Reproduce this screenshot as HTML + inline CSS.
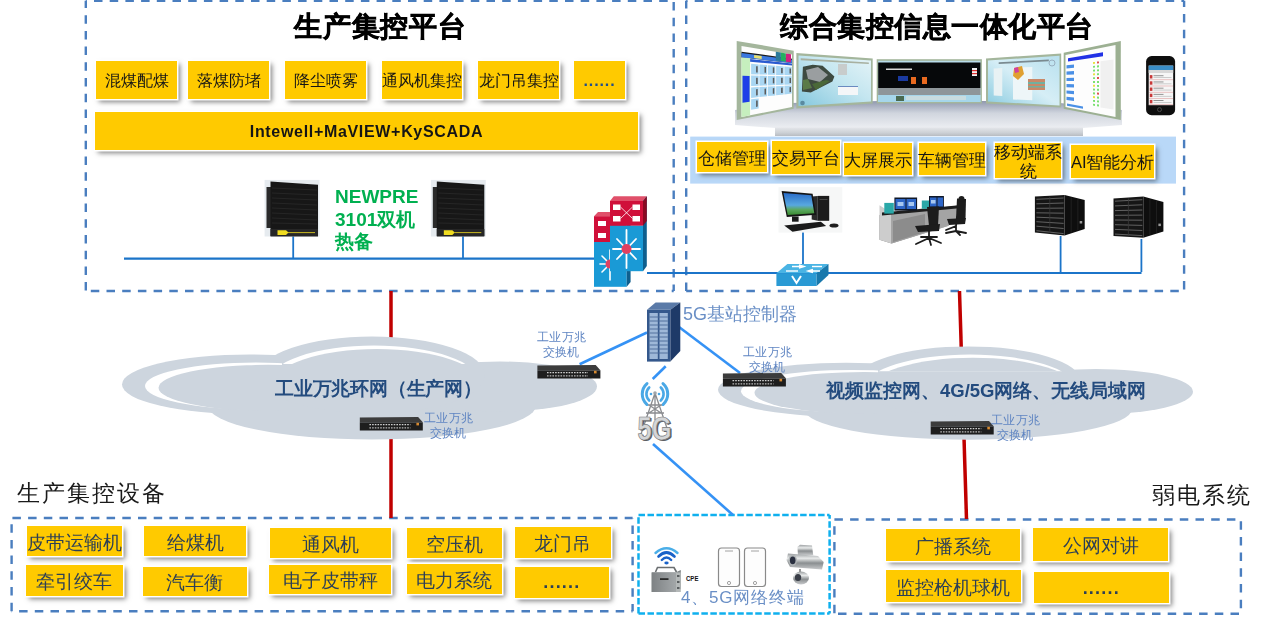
<!DOCTYPE html>
<html><head><meta charset="utf-8">
<style>
html,body{margin:0;padding:0}
.t,.y{will-change:transform}
body{width:1268px;height:629px;position:relative;overflow:hidden;background:#fff;font-family:"Liberation Sans",sans-serif}
svg.bg{position:absolute;left:0;top:0}
.t{position:absolute;white-space:nowrap;line-height:1}
.y{position:absolute;background:#ffca00;box-shadow:0 0 0 1.5px #fff,3px 3px 5px rgba(0,0,0,.5);display:flex;align-items:center;justify-content:center;font-size:15.5px;color:#151515;white-space:nowrap;line-height:1;font-weight:500;padding-top:2px;box-sizing:border-box}
.yb{color:#2d3f55;font-size:18.5px;padding-top:4px;box-sizing:border-box}
.sl{font-size:12px;color:#5f85c2;line-height:14.8px;letter-spacing:0.3px}
.dots2{font-weight:bold;font-size:18px;letter-spacing:1.2px;color:#2d3f55;padding-top:0}
.dots{color:#1f4e8c;font-weight:bold;font-size:16px;letter-spacing:0.9px}
</style></head><body>
<svg class="bg" width="1268" height="629" viewBox="0 0 1268 629">
  <defs>
    <filter id="blur1"><feGaussianBlur stdDeviation="0.6"/></filter>
  </defs>
  <!-- dashed boxes -->
  <g fill="none" stroke="#4a7ebf" stroke-width="2.4" stroke-dasharray="8.5 7.2">
    <line x1="85.8" y1="0.8" x2="673.7" y2="0.8" stroke-dashoffset="7.50"/>
    <line x1="673.7" y1="0.8" x2="673.7" y2="291.0" stroke-dashoffset="14.50"/>
    <line x1="673.7" y1="291.0" x2="85.8" y2="291.0" stroke-dashoffset="6.50"/>
    <line x1="85.8" y1="291.0" x2="85.8" y2="0.8" stroke-dashoffset="15.30"/>
    <line x1="686.2" y1="0.8" x2="1184.1" y2="0.8" stroke-dashoffset="7.20"/>
    <line x1="1184.1" y1="0.8" x2="1184.1" y2="291.0" stroke-dashoffset="2.40"/>
    <line x1="1184.1" y1="291.0" x2="686.2" y2="291.0" stroke-dashoffset="10.40"/>
    <line x1="686.2" y1="291.0" x2="686.2" y2="0.8" stroke-dashoffset="0.00"/>
  </g>
  <g fill="none" stroke="#4a7ebf" stroke-width="2.4" stroke-dasharray="8.5 7.2">
    <line x1="11.6" y1="518.0" x2="632.6" y2="518.0" stroke-dashoffset="14.90"/>
    <line x1="632.6" y1="518.0" x2="632.6" y2="611.2" stroke-dashoffset="8.30"/>
    <line x1="11.6" y1="611.2" x2="632.6" y2="611.2" stroke-dashoffset="8.20"/>
    <line x1="11.6" y1="611.2" x2="11.6" y2="518.0" stroke-dashoffset="0.00"/>
    <line x1="834.4" y1="519.5" x2="1240.9" y2="519.5" stroke-dashoffset="0.00"/>
    <line x1="1240.9" y1="519.5" x2="1240.9" y2="613.8" stroke-dashoffset="14.00"/>
    <line x1="834.4" y1="613.8" x2="1240.9" y2="613.8" stroke-dashoffset="12.10"/>
    <line x1="834.4" y1="519.5" x2="834.4" y2="613.8" stroke-dashoffset="8.90"/>
  </g>
  <g fill="none" stroke="#0fb0ee" stroke-width="2.5" stroke-dasharray="6.5 2.48">
    <line x1="638.5" y1="514.9" x2="829.6" y2="514.9" stroke-dashoffset="0.00"/>
    <line x1="829.6" y1="514.9" x2="829.6" y2="613.4" stroke-dashoffset="2.68"/>
    <line x1="638.5" y1="613.4" x2="829.6" y2="613.4" stroke-dashoffset="0.00"/>
    <line x1="638.5" y1="514.9" x2="638.5" y2="613.4" stroke-dashoffset="6.58"/>
  </g>

  <!-- red lines -->
  <line x1="391" y1="291" x2="391" y2="518" stroke="#c00000" stroke-width="3.5"/>
  <line x1="959.5" y1="291" x2="966.5" y2="519" stroke="#c00000" stroke-width="3.5"/>

  <!-- buses -->
  <line x1="124" y1="258.7" x2="594" y2="258.7" stroke="#1b74c9" stroke-width="2.2"/>
  <line x1="293.2" y1="236" x2="293.2" y2="258" stroke="#1b74c9" stroke-width="1.8"/>
  <line x1="463" y1="236" x2="463" y2="258" stroke="#1b74c9" stroke-width="1.8"/>
  <line x1="647" y1="273" x2="1141.5" y2="273" stroke="#1b74c9" stroke-width="2.2"/>
  <line x1="803" y1="232" x2="803" y2="272" stroke="#1b74c9" stroke-width="1.8"/>
  <line x1="1060.6" y1="236" x2="1060.6" y2="272" stroke="#1b74c9" stroke-width="1.8"/>
  <line x1="1141.4" y1="239" x2="1141.4" y2="272" stroke="#1b74c9" stroke-width="1.8"/>

  <!-- ===== NEWPRE servers ===== -->
  <g id="srv">
    <rect x="264.6" y="179.9" width="54.9" height="56.6" fill="#e6ebef"/>
    <rect x="266.5" y="187" width="6" height="41" fill="#2a2a2a"/>
    <polygon points="270.5,181.5 318,184.8 318,236 270.5,236" fill="#171717"/>
    <g stroke="#2c2c2c" stroke-width="0.7">
      <line x1="272" y1="188" x2="317" y2="190"/><line x1="272" y1="193" x2="317" y2="195"/>
      <line x1="272" y1="198" x2="317" y2="200"/><line x1="272" y1="203" x2="317" y2="205"/>
      <line x1="272" y1="208" x2="317" y2="210"/><line x1="272" y1="213" x2="317" y2="215"/>
      <line x1="272" y1="218" x2="317" y2="220"/><line x1="272" y1="223" x2="317" y2="224"/>
    </g>
    <rect x="270.5" y="229" width="47.5" height="7.5" fill="#262626"/>
    <polygon points="277.5,230.2 286,230.2 288.5,232.6 286,235 277.5,235" fill="#f0dc20"/>
    <line x1="288" y1="232.6" x2="315" y2="232.6" stroke="#c8b820" stroke-width="1"/>
  </g>
  <use href="#srv" x="166.3" y="0"/>

  <!-- ===== Cisco L3 switches ===== -->
  <g id="l3back">
    <polygon points="594,216.2 598,212 630.6,212 626.7,216.2" fill="#e0506a"/>
    <rect x="594" y="216.2" width="32.7" height="25.8" fill="#d0103a"/>
    <rect x="594" y="242" width="32.7" height="44.8" fill="#1a9ad6"/>
    <polygon points="626.7,216.2 630.6,212 630.6,282 626.7,286.8" fill="#0e5f8e"/>
    <rect x="598" y="221" width="8" height="5" fill="#fff"/>
    <rect x="598" y="233" width="8" height="5" fill="#fff"/>
    <g stroke="#fff" stroke-width="1.6" stroke-linecap="round">
      <line x1="610" y1="264" x2="600" y2="264"/><line x1="610" y1="264" x2="610" y2="250"/>
      <line x1="610" y1="264" x2="610" y2="280"/><line x1="610" y1="264" x2="602" y2="256"/>
      <line x1="610" y1="264" x2="602" y2="272"/>
    </g>
    <circle cx="610" cy="264" r="4.5" fill="#e04060"/>
  </g>
  <g id="l3front">
    <polygon points="610,201 613.8,196.2 646.8,196.2 643,201" fill="#e0506a"/>
    <rect x="610" y="201" width="33" height="24.8" fill="#d0103a"/>
    <rect x="610" y="225.8" width="33" height="45.4" fill="#1a9ad6"/>
    <polygon points="643,201 646.8,196.2 646.8,266 643,271.2" fill="#0e5f8e"/>
    <polygon points="643,201 646.8,196.2 646.8,221 643,225.8" fill="#8a0a22"/>
    <rect x="613" y="204.5" width="7.5" height="5.5" fill="#fff"/>
    <rect x="632.5" y="204.5" width="7.5" height="5.5" fill="#fff"/>
    <rect x="613" y="216" width="7.5" height="5.5" fill="#fff"/>
    <rect x="632.5" y="216" width="7.5" height="5.5" fill="#fff"/>
    <path d="M620.5,207 L632.5,218.5 M620.5,218.5 L632.5,207" stroke="#fff" stroke-width="0.8"/>
    <g stroke="#fff" stroke-width="1.8" stroke-linecap="round">
      <line x1="626.5" y1="249" x2="626.5" y2="230"/><line x1="626.5" y1="249" x2="626.5" y2="268"/>
      <line x1="626.5" y1="249" x2="613" y2="249"/><line x1="626.5" y1="249" x2="640" y2="249"/>
      <line x1="626.5" y1="249" x2="617" y2="239"/><line x1="626.5" y1="249" x2="636" y2="239"/>
      <line x1="626.5" y1="249" x2="617" y2="259"/><line x1="626.5" y1="249" x2="636" y2="259"/>
    </g>
    <circle cx="626.5" cy="249" r="5" fill="#e04060"/>
  </g>

  <!-- ===== clouds ===== -->
  <defs>
    <clipPath id="clipLobe"><rect x="100" y="340" width="182" height="72"/></clipPath>
    <clipPath id="clipHump"><rect x="270" y="320" width="200" height="44"/></clipPath>
  </defs>
  <g id="cloudL">
    <g fill="#cdd5de">
      <ellipse cx="250" cy="384.4" rx="128" ry="30"/>
      <ellipse cx="372" cy="405.5" rx="164" ry="34"/>
      <ellipse cx="500" cy="386.5" rx="97" ry="25"/>
      <ellipse cx="372" cy="375" rx="113" ry="38.5"/>
    </g>
    <g clip-path="url(#clipLobe)">
      <ellipse cx="256" cy="386" rx="111" ry="23.5" fill="#fff"/>
      <ellipse cx="268" cy="387.8" rx="109.5" ry="23" fill="#cdd5de"/>
    </g>
    <g clip-path="url(#clipHump)">
      <ellipse cx="374" cy="381" rx="104" ry="35.5" fill="#fff"/>
      <ellipse cx="377" cy="384.5" rx="104" ry="35.5" fill="#cdd5de"/>
    </g>
  </g>
  <use href="#cloudL" transform="translate(596,441) scale(1,0.905) translate(0,-441)"/>

  <!-- ===== blue links ===== -->
  <g stroke="#3592f5" stroke-width="2.6">
    <line x1="579.6" y1="364.2" x2="647" y2="332.5"/>
    <line x1="679" y1="327" x2="740" y2="373"/>
    <line x1="665.7" y1="366.3" x2="652.7" y2="379"/>
    <line x1="653" y1="444" x2="733" y2="515"/>
  </g>

  <!-- ===== 1U switches ===== -->
  <g id="sw1u">
    <polygon points="537.4,365.6 595.7,364.9 600.4,370.3 537.4,370.3" fill="#3c3c3c"/>
    <rect x="537.4" y="370.3" width="63" height="8.2" fill="#1e1e1e"/>
    <line x1="547" y1="372.6" x2="588" y2="372.6" stroke="#d0d0d0" stroke-width="1.3" stroke-dasharray="1.6 1.1"/>
    <line x1="547" y1="375.8" x2="588" y2="375.8" stroke="#b8b8b8" stroke-width="1.3" stroke-dasharray="1.6 1.1"/>
    <rect x="594" y="370.8" width="2.6" height="2.6" fill="#d88a30"/>
  </g>
  <use href="#sw1u" x="185.5" y="8"/>
  <use href="#sw1u" x="-177.6" y="52"/>
  <use href="#sw1u" x="393.3" y="56"/>

  <!-- ===== 5G controller rack ===== -->
  <polygon points="647,309.8 655.6,302.4 680.3,302.4 670.4,309.8" fill="#5a7aa8"/>
  <rect x="647" y="309.8" width="23.4" height="51.8" fill="#34588c"/>
  <polygon points="670.4,309.8 680.3,302.4 680.3,351 670.4,361.6" fill="#1e3a68"/>
  <rect x="649.5" y="313" width="8.3" height="46" fill="#9eb8d8"/>
  <rect x="659.5" y="313" width="8.3" height="46" fill="#9eb8d8"/>
  <g stroke="#4a6a98" stroke-width="0.9">
    <line x1="649.5" y1="317" x2="667.8" y2="317"/><line x1="649.5" y1="321" x2="667.8" y2="321"/>
    <line x1="649.5" y1="325" x2="667.8" y2="325"/><line x1="649.5" y1="329" x2="667.8" y2="329"/>
    <line x1="649.5" y1="333" x2="667.8" y2="333"/><line x1="649.5" y1="337" x2="667.8" y2="337"/>
    <line x1="649.5" y1="341" x2="667.8" y2="341"/><line x1="649.5" y1="345" x2="667.8" y2="345"/>
    <line x1="649.5" y1="349" x2="667.8" y2="349"/><line x1="649.5" y1="353" x2="667.8" y2="353"/>
  </g>

  <!-- ===== 5G tower ===== -->
  <g fill="none" stroke="#4aa8e6" stroke-linecap="round">
    <path d="M649.2,387.5 A9,9 0 0 0 649.2,400.5" stroke-width="2.6"/><path d="M660.8,387.5 A9,9 0 0 1 660.8,400.5" stroke-width="2.6"/>
    <path d="M647,383.5 A14,14 0 0 0 647,404.5" stroke-width="3"/><path d="M663,383.5 A14,14 0 0 1 663,404.5" stroke-width="3"/>
  </g>
  <circle cx="651" cy="394" r="1.3" fill="#4aa8e6"/><circle cx="659" cy="394" r="1.3" fill="#4aa8e6"/>
  <g stroke="#8a8c90" stroke-width="1.3" fill="none">
    <path d="M655,393 L640,437 M655,393 L670,437 M655,393 L655,420 M648,405 L662,405 M646,413 L664,413 M649,405 L661,413 M661,405 L649,413"/>
  </g>
  <circle cx="655" cy="393" r="1.8" fill="#a0a4a8"/>
  <text x="639" y="441" font-family="Liberation Sans, sans-serif" font-weight="bold" font-size="34" fill="#5a5c60" textLength="34" lengthAdjust="spacingAndGlyphs">5G</text>
  <text x="637.5" y="440" font-family="Liberation Sans, sans-serif" font-weight="bold" font-size="34" fill="#d4d6d8" stroke="#7a7c80" stroke-width="0.7" textLength="34" lengthAdjust="spacingAndGlyphs">5G</text>

  <!-- ===== terminal icons ===== -->
  <defs>
    <linearGradient id="silver" x1="0" y1="0" x2="0" y2="1">
      <stop offset="0" stop-color="#9a9ea0"/><stop offset="0.3" stop-color="#e8eaea"/><stop offset="0.6" stop-color="#8a8e90"/><stop offset="1" stop-color="#c8cacc"/>
    </linearGradient>
    <linearGradient id="cpebox" x1="0" y1="0" x2="1" y2="0">
      <stop offset="0" stop-color="#7e8284"/><stop offset="1" stop-color="#a2a6a8"/>
    </linearGradient>
  </defs>
  <g fill="none" stroke-linecap="round">
    <path d="M655.5,553 Q666.5,543.5 677.5,553" stroke="#4aaee8" stroke-width="2.4"/>
    <path d="M658.5,556.5 Q666.5,548.5 674.5,556.5" stroke="#1a62c8" stroke-width="2.6"/>
    <path d="M661.8,560 Q666.5,555 671.2,560" stroke="#1a62c8" stroke-width="2.4"/>
  </g>
  <ellipse cx="666.5" cy="563" rx="2.2" ry="1.4" fill="#1a62c8"/>
  <path d="M655.5,572 L657.5,567.5 L674,567.5 L676.5,572" fill="none" stroke="#6a6e70" stroke-width="1.6"/>
  <polygon points="651.7,572.4 675.5,572.4 680.8,570 680.8,589 675.5,592 651.7,592" fill="#7c8082"/>
  <rect x="651.7" y="572.4" width="23.8" height="19.6" fill="url(#cpebox)"/>
  <rect x="675.5" y="572.4" width="5.3" height="19.6" fill="#b4b8b8"/>
  <rect x="660" y="578.2" width="8.5" height="1.8" fill="#2a2a2a"/>
  <g fill="#5a5e60"><rect x="677" y="575" width="2.5" height="2"/><rect x="677" y="581" width="2.5" height="2"/><rect x="677" y="587" width="2.5" height="2"/></g>
  <text x="686" y="581" font-family="Liberation Sans, sans-serif" font-weight="bold" font-size="8" fill="#111" textLength="12.4" lengthAdjust="spacingAndGlyphs">CPE</text>
  <rect x="718.5" y="548" width="21" height="38.5" rx="3" fill="#fdfdfd" stroke="#8a8a8a" stroke-width="1.2"/>
  <rect x="744.5" y="548" width="21" height="38.5" rx="3" fill="#fdfdfd" stroke="#8a8a8a" stroke-width="1.2"/>
  <circle cx="729" cy="583" r="1.6" fill="none" stroke="#8a8a8a" stroke-width="0.8"/>
  <circle cx="755" cy="583" r="1.6" fill="none" stroke="#8a8a8a" stroke-width="0.8"/>
  <line x1="725" y1="551" x2="733" y2="551" stroke="#8a8a8a" stroke-width="0.8"/>
  <line x1="751" y1="551" x2="759" y2="551" stroke="#8a8a8a" stroke-width="0.8"/>
  <!-- camera -->
  <polygon points="797.4,547 800,544.7 812,545.5 813.2,555.2 798,555.2" fill="url(#silver)"/>
  <polygon points="788,553.5 818,556 823.7,562 822,569.5 790,567 786.5,560" fill="url(#silver)"/>
  <ellipse cx="792.7" cy="560.4" rx="4.3" ry="5.6" fill="#b0b4b6"/>
  <ellipse cx="792.7" cy="560.4" rx="2.8" ry="3.8" fill="#2a3040"/>
  <line x1="800" y1="569" x2="800" y2="572" stroke="#777" stroke-width="1.5"/>
  <ellipse cx="801" cy="578" rx="8" ry="6.5" fill="url(#silver)"/>
  <ellipse cx="798" cy="577.5" rx="3.2" ry="3.6" fill="#3a3e48"/>

  <!-- ===== screens platform ===== -->
  <defs>
    <linearGradient id="plat" x1="0" y1="0" x2="0" y2="1">
      <stop offset="0" stop-color="#9098ae"/><stop offset="0.45" stop-color="#d0d5de"/><stop offset="1" stop-color="#eceef2"/>
    </linearGradient>
    <linearGradient id="shelf" x1="0" y1="0" x2="0" y2="1">
      <stop offset="0" stop-color="#e4e6ea"/><stop offset="0.6" stop-color="#cdd1d6"/><stop offset="1" stop-color="#b8bcc2"/>
    </linearGradient>
  </defs>
  <polygon points="735,110 790,103 880,101 985,101 1060,103 1122,110 1122,125 1083,128 775,128 735,125" fill="url(#plat)"/>
  <rect x="775" y="127.5" width="308" height="8.5" fill="url(#shelf)"/>
  <!-- screens -->
  <polygon points="736.7,40.9 793.7,50.7 793.7,108.8 736.7,120.0" fill="#a4b69c"/>
  <polygon points="741.5,46.0 792.0,54.5 792.0,107.0 741.5,117.0" fill="#fdfdfd"/>
  <polygon points="741.5,51.7 792.0,58.7 792.0,62.9 741.5,57.4" fill="#1a1a1a"/>
  <polygon points="741.5,53.1 792.0,59.8 792.0,62.9 741.5,57.4" fill="#3a78e0"/>
  <polygon points="754.1,55.1 761.7,56.1 761.7,58.9 754.1,58.1" fill="#e8e070"/>
  <polygon points="775.8,51.8 780.9,52.6 780.9,61.1 775.8,60.5" fill="#2a7a9a"/>
  <polygon points="780.9,52.6 785.9,53.5 785.9,61.7 780.9,61.1" fill="#22b060"/>
  <polygon points="785.9,53.5 791.0,54.3 791.0,62.3 785.9,61.7" fill="#d02080"/>
  <polygon points="741.5,57.4 750.1,58.3 750.1,115.3 741.5,117.0" fill="#c6efbe"/>
  <polygon points="742.5,75.8 749.6,75.9 749.6,101.8 742.5,102.7" fill="#1e3ee8"/>
  <polygon points="750.1,59.0 792.0,63.4 792.0,65.5 750.1,61.7" fill="#2a5ad0"/>
  <polygon points="751.1,63.8 758.7,64.4 758.7,74.5 751.1,74.3" fill="#a9d6f2"/>
  <polygon points="756.1,66.2 757.7,66.3 757.7,72.5 756.1,72.4" fill="#5a5a5a"/>
  <polygon points="759.4,64.5 767.0,65.1 767.0,74.6 759.4,74.5" fill="#a9d6f2"/>
  <polygon points="764.5,66.8 766.0,66.9 766.0,72.8 764.5,72.7" fill="#5a5a5a"/>
  <polygon points="767.8,65.2 775.3,65.8 775.3,74.8 767.8,74.7" fill="#a9d6f2"/>
  <polygon points="772.8,67.3 774.3,67.4 774.3,73.1 772.8,73.0" fill="#5a5a5a"/>
  <polygon points="776.1,65.8 783.7,66.4 783.7,75.0 776.1,74.9" fill="#a9d6f2"/>
  <polygon points="781.1,67.9 782.7,68.0 782.7,73.3 781.1,73.3" fill="#5a5a5a"/>
  <polygon points="784.4,66.5 791.7,67.1 791.7,75.2 784.4,75.1" fill="#a9d6f2"/>
  <polygon points="789.5,68.5 791.0,68.6 791.0,73.6 789.5,73.6" fill="#5a5a5a"/>
  <polygon points="751.1,75.6 758.7,75.7 758.7,85.8 751.1,86.1" fill="#a9d6f2"/>
  <polygon points="756.1,77.7 757.7,77.7 757.7,83.9 756.1,83.9" fill="#5a5a5a"/>
  <polygon points="759.4,75.8 767.0,75.9 767.0,85.4 759.4,85.7" fill="#a9d6f2"/>
  <polygon points="764.5,77.7 766.0,77.7 766.0,83.6 764.5,83.7" fill="#5a5a5a"/>
  <polygon points="767.8,75.9 775.3,76.0 775.3,85.1 767.8,85.4" fill="#a9d6f2"/>
  <polygon points="772.8,77.8 774.3,77.8 774.3,83.4 772.8,83.4" fill="#5a5a5a"/>
  <polygon points="776.1,76.0 783.7,76.2 783.7,84.8 776.1,85.1" fill="#a9d6f2"/>
  <polygon points="781.1,77.8 782.7,77.8 782.7,83.1 781.1,83.2" fill="#5a5a5a"/>
  <polygon points="784.4,76.2 791.7,76.3 791.7,84.4 784.4,84.7" fill="#a9d6f2"/>
  <polygon points="789.5,77.8 791.0,77.9 791.0,82.9 789.5,82.9" fill="#5a5a5a"/>
  <polygon points="751.1,87.4 758.7,87.1 758.7,97.1 751.1,97.9" fill="#a9d6f2"/>
  <polygon points="756.1,89.2 757.7,89.1 757.7,95.3 756.1,95.4" fill="#5a5a5a"/>
  <polygon points="759.4,87.0 767.0,86.7 767.0,96.2 759.4,97.0" fill="#a9d6f2"/>
  <polygon points="764.5,88.7 766.0,88.6 766.0,94.5 764.5,94.6" fill="#5a5a5a"/>
  <polygon points="767.8,86.6 775.3,86.3 775.3,95.4 767.8,96.1" fill="#a9d6f2"/>
  <polygon points="772.8,88.2 774.3,88.1 774.3,93.7 772.8,93.8" fill="#5a5a5a"/>
  <polygon points="776.1,86.2 783.7,85.9 783.7,94.5 776.1,95.3" fill="#a9d6f2"/>
  <polygon points="781.1,87.7 782.7,87.6 782.7,92.9 781.1,93.1" fill="#5a5a5a"/>
  <polygon points="784.4,85.8 791.7,85.5 791.7,93.6 784.4,94.4" fill="#a9d6f2"/>
  <polygon points="789.5,87.2 791.0,87.1 791.0,92.1 789.5,92.3" fill="#5a5a5a"/>
  <polygon points="751.1,99.2 758.7,98.4 758.7,108.4 751.1,109.7" fill="#a9d6f2"/>
  <polygon points="756.1,100.6 757.7,100.5 757.7,106.6 756.1,106.9" fill="#5a5a5a"/>
  <polygon points="796.4,53.0 872.7,58.4 872.7,103.4 796.4,108.5" fill="#a4b69c"/>
  <defs><linearGradient id="s2g" x1="0" y1="1" x2="1" y2="0"><stop offset="0" stop-color="#86c8de"/><stop offset="0.55" stop-color="#c4e6f0"/><stop offset="1" stop-color="#e6f4f8"/></linearGradient></defs>
  <polygon points="798.5,55.5 871.0,60.5 871.0,101.5 798.5,106.0" fill="url(#s2g)"/>
  <polygon points="800.7,58.2 868.8,62.4 868.8,64.1 800.7,60.2" fill="#a8b0a0"/>
  <polygon points="801.9,91.4 802.9,66.8 812.7,64.8 822.6,65.8 834.4,76.6 832.4,81.6 820.6,87.5 810.8,92.4" fill="#3e4a40"/>
  <polygon points="806,70 818,67 828,75 820,82 808,79" fill="#9a9ea0"/>
  <polygon points="803,80 808,79 812,88 803,90" fill="#5a7a48"/>
  <polygon points="812,84 826,80 830,81 816,90" fill="#4a6838"/>
  <rect x="838" y="64" width="9" height="11" fill="#c8cccc"/>
  <rect x="838" y="86" width="20" height="9" fill="#f4f6f8"/>
  <rect x="838" y="86" width="20" height="1" fill="#6a8ac0"/>
  <circle cx="802.5" cy="103" r="2.3" fill="#5a8aa0"/>
  <rect x="876.7" y="59.2" width="105.2" height="44.2" fill="#a4b69c"/>
  <rect x="878.2" y="60.8" width="102.2" height="41.2" fill="#b8dcea"/>
  <rect x="878.2" y="62.5" width="102.2" height="25.5" fill="#06080a"/>
  <rect x="886" y="68.5" width="26" height="1.5" fill="#d8d8d8"/>
  <rect x="898" y="76" width="10" height="5" fill="#1a3aa0"/>
  <rect x="911" y="77" width="5" height="7" fill="#e86a20"/>
  <rect x="922" y="77" width="5" height="7" fill="#e86a20"/>
  <rect x="972" y="68" width="5" height="8" fill="#f0f0f0"/>
  <rect x="972" y="70" width="5" height="1.2" fill="#e03030"/>
  <rect x="972" y="73" width="5" height="1.2" fill="#e03030"/>
  <rect x="878.2" y="88" width="102.2" height="7" fill="#8e969a"/>
  <rect x="878.2" y="95" width="102.2" height="7" fill="#a6d6ea"/>
  <rect x="896" y="96" width="8" height="5" fill="#4a6a50"/>
  <rect x="906" y="96" width="60" height="4" fill="#c8dce0"/>
  <polygon points="986.0,58.4 1061.2,53.4 1061.2,107.6 986.0,103.4" fill="#a4b69c"/>
  <defs><linearGradient id="s4g" x1="0" y1="1" x2="1" y2="0"><stop offset="0" stop-color="#8ccce0"/><stop offset="0.5" stop-color="#d6eef6"/><stop offset="1" stop-color="#b8e0ee"/></linearGradient></defs>
  <polygon points="988.0,60.5 1059.5,55.8 1059.5,105.5 988.0,101.5" fill="url(#s4g)"/>
  <polygon points="998.7,62.3 1048.8,59.4 1048.8,61.3 998.7,64.0" fill="#7a8a90"/>
  <polygon points="993.7,68.5 1002.3,68.1 1002.3,95.9 993.7,95.6" fill="#e8f2f4"/>
  <polygon points="1013.0,67.7 1032.3,66.9 1032.3,100.3 1013.0,99.4" fill="#eef6f8"/>
  <polygon points="1014,68 1022,66 1024,74 1018,80 1013,76" fill="#e0a030"/>
  <polygon points="1014,68 1018,67 1019,72 1015,73" fill="#d040a0"/>
  <rect x="1028" y="79" width="17" height="11" fill="#c88868"/>
  <rect x="1028" y="82" width="17" height="2" fill="#70b0a0"/>
  <rect x="1028" y="86" width="17" height="1.5" fill="#70b0a0"/>
  <circle cx="1052" cy="63" r="3" fill="none" stroke="#9ab0c0" stroke-width="1"/>
  <polygon points="1063.7,52.8 1120.8,40.9 1120.8,120.0 1063.7,108.8" fill="#9cb092"/>
  <polygon points="1065.5,55.0 1115.5,45.0 1115.5,117.0 1065.5,107.0" fill="#fdfdfd"/>
  <polygon points="1068.0,58.2 1103.0,52.2 1103.0,56.2 1068.0,61.4" fill="#2232e6"/>
  <polygon points="1066.5,65.3 1074.0,64.4 1074.0,67.7 1066.5,68.4" fill="#4a90e6"/>
  <polygon points="1066.5,71.6 1074.0,71.0 1074.0,74.4 1066.5,74.7" fill="#4a90e6"/>
  <polygon points="1066.5,77.9 1074.0,77.7 1074.0,81.0 1066.5,81.0" fill="#4a90e6"/>
  <polygon points="1066.5,84.1 1074.0,84.3 1074.0,87.6 1066.5,87.3" fill="#4a90e6"/>
  <polygon points="1066.5,90.4 1074.0,91.0 1074.0,94.3 1066.5,93.6" fill="#4a90e6"/>
  <polygon points="1066.5,96.7 1074.0,97.6 1074.0,100.9 1066.5,99.9" fill="#4a90e6"/>
  <polygon points="1093.0,62.1 1095.0,61.9 1095.0,63.8 1093.0,64.0" fill="#e8e040"/>
  <polygon points="1097.0,61.6 1099.0,61.4 1099.0,63.3 1097.0,63.6" fill="#e05050"/>
  <polygon points="1093.0,65.9 1095.0,65.7 1095.0,67.6 1093.0,67.8" fill="#7ae070"/>
  <polygon points="1097.0,65.5 1099.0,65.3 1099.0,67.3 1097.0,67.4" fill="#7ae070"/>
  <polygon points="1093.0,69.7 1095.0,69.5 1095.0,71.4 1093.0,71.6" fill="#7ae070"/>
  <polygon points="1097.0,69.4 1099.0,69.2 1099.0,71.2 1097.0,71.3" fill="#7ae070"/>
  <polygon points="1093.0,73.4 1095.0,73.3 1095.0,75.3 1093.0,75.3" fill="#e8e040"/>
  <polygon points="1097.0,73.2 1099.0,73.2 1099.0,75.1 1097.0,75.2" fill="#7ae070"/>
  <polygon points="1093.0,77.2 1095.0,77.2 1095.0,79.1 1093.0,79.1" fill="#7ae070"/>
  <polygon points="1097.0,77.1 1099.0,77.1 1099.0,79.0 1097.0,79.1" fill="#e05050"/>
  <polygon points="1093.0,81.0 1095.0,81.0 1095.0,82.9 1093.0,82.9" fill="#7ae070"/>
  <polygon points="1097.0,81.0 1099.0,81.0 1099.0,83.0 1097.0,82.9" fill="#7ae070"/>
  <polygon points="1093.0,84.8 1095.0,84.8 1095.0,86.7 1093.0,86.7" fill="#e8e040"/>
  <polygon points="1097.0,84.9 1099.0,84.9 1099.0,86.9 1097.0,86.8" fill="#7ae070"/>
  <polygon points="1093.0,88.6 1095.0,88.7 1095.0,90.6 1093.0,90.5" fill="#7ae070"/>
  <polygon points="1097.0,88.8 1099.0,88.8 1099.0,90.8 1097.0,90.7" fill="#7ae070"/>
  <polygon points="1093.0,92.3 1095.0,92.5 1095.0,94.4 1093.0,94.2" fill="#7ae070"/>
  <polygon points="1097.0,92.6 1099.0,92.8 1099.0,94.7 1097.0,94.6" fill="#e05050"/>
  <polygon points="1093.0,96.1 1095.0,96.3 1095.0,98.2 1093.0,98.0" fill="#e8e040"/>
  <polygon points="1097.0,96.5 1099.0,96.7 1099.0,98.7 1097.0,98.4" fill="#7ae070"/>
  <polygon points="1093.0,99.9 1095.0,100.1 1095.0,102.1 1093.0,101.8" fill="#7ae070"/>
  <polygon points="1097.0,100.4 1099.0,100.6 1099.0,102.6 1097.0,102.3" fill="#7ae070"/>
  <polygon points="1093.0,103.7 1095.0,104.0 1095.0,105.9 1093.0,105.6" fill="#7ae070"/>
  <polygon points="1097.0,104.3 1099.0,104.5 1099.0,106.5 1097.0,106.2" fill="#7ae070"/>
  <polygon points="1100.5,61.2 1113.5,59.6 1113.5,109.5 1100.5,107.4" fill="#f0f0f0"/>
  <polygon points="1067.0,103.6 1083.0,106.4 1083.0,108.7 1067.0,105.7" fill="#4a90e6"/>
  <!-- phone -->
  <rect x="1146.1" y="56.1" width="29" height="59.1" rx="5.5" fill="#0e0e0e"/>
  <rect x="1148.7" y="65.6" width="24.5" height="39.6" fill="#f6f6f6"/>
  <rect x="1148.7" y="65.6" width="24.5" height="4.4" fill="#3a8ec8"/>
  <rect x="1148.7" y="70" width="24.5" height="3" fill="#d8d8d8"/>
  <rect x="1149.8" y="75.1" width="2.6" height="3.4" fill="#c83838"/><rect x="1153.5" y="75.3" width="10" height="0.9" fill="#888"/><rect x="1153.5" y="77.3" width="18" height="0.7" fill="#bbb"/><rect x="1149" y="79.5" width="24" height="0.6" fill="#e0a0a0"/><rect x="1149.8" y="81.3" width="2.6" height="3.4" fill="#c83838"/><rect x="1153.5" y="81.5" width="10" height="0.9" fill="#888"/><rect x="1153.5" y="83.5" width="18" height="0.7" fill="#bbb"/><rect x="1149" y="85.7" width="24" height="0.6" fill="#e0a0a0"/><rect x="1149.8" y="87.5" width="2.6" height="3.4" fill="#c83838"/><rect x="1153.5" y="87.7" width="10" height="0.9" fill="#888"/><rect x="1153.5" y="89.7" width="18" height="0.7" fill="#bbb"/><rect x="1149" y="91.9" width="24" height="0.6" fill="#e0a0a0"/><rect x="1149.8" y="93.7" width="2.6" height="3.4" fill="#c83838"/><rect x="1153.5" y="93.9" width="10" height="0.9" fill="#888"/><rect x="1153.5" y="95.9" width="18" height="0.7" fill="#bbb"/><rect x="1149" y="98.1" width="24" height="0.6" fill="#e0a0a0"/><rect x="1149.8" y="99.9" width="2.6" height="3.4" fill="#c83838"/><rect x="1153.5" y="100.1" width="10" height="0.9" fill="#888"/><rect x="1153.5" y="102.1" width="18" height="0.7" fill="#bbb"/><rect x="1149" y="104.3" width="24" height="0.6" fill="#e0a0a0"/>
  <circle cx="1159.5" cy="109.6" r="2" fill="none" stroke="#555" stroke-width="0.8"/>
  <!-- band -->
  <rect x="690.2" y="136.6" width="485.8" height="47" fill="#b9d8f8"/>

  <!-- PC -->
  <defs>
    <linearGradient id="pcscr" x1="0" y1="0" x2="0" y2="1">
      <stop offset="0" stop-color="#2a6cc8"/><stop offset="0.55" stop-color="#58a8e0"/><stop offset="0.75" stop-color="#5aa860"/><stop offset="1" stop-color="#3a8a30"/>
    </linearGradient>
    <linearGradient id="deskfront" x1="0" y1="0" x2="1" y2="0">
      <stop offset="0" stop-color="#7a7a7a"/><stop offset="0.6" stop-color="#a8a8a8"/><stop offset="1" stop-color="#c0c0c0"/>
    </linearGradient>
  </defs>
  <rect x="778.5" y="187.2" width="63.8" height="45.4" fill="#f6f7f7"/>
  <polygon points="811.7,196.5 817.8,195.9 817.8,220.8 811.7,219.5" fill="#2a2a2a"/>
  <rect x="817.8" y="195.9" width="11.4" height="24.9" fill="#1c1c1c"/>
  <rect x="819.5" y="199" width="8" height="1" fill="#444"/>
  <polygon points="781.6,191.1 812.6,193.7 816.1,214.7 786.8,216.9" fill="#141414"/>
  <polygon points="783.5,193 811.3,195.3 814.3,213.2 787.7,215.1" fill="url(#pcscr)"/>
  <rect x="792" y="216.5" width="6.6" height="5.2" fill="#1a1a1a"/>
  <polygon points="784.2,225.6 820.9,221.7 826.1,226.1 792.5,231.8" fill="#1a1a1a"/>
  <ellipse cx="834" cy="225.6" rx="4.5" ry="2" fill="#1e1e1e"/>
  <!-- console desk -->
  <polygon points="879.5,215 963,205 963,214 948,226 891.5,243.4 879.5,239.8" fill="url(#deskfront)"/>
  <polygon points="879.5,205.3 891.5,213 891.5,243.4 879.5,239.8" fill="#cdcdcd"/>
  <polygon points="891.5,213 963,205 963,214 948,226 891.5,243.4" fill="#a4a4a4"/>
  <polygon points="893,221 925,214 925,232 893,242" fill="#8c8c8c"/>
  <polygon points="882,212.4 961.8,205 961.8,208 882,215.5" fill="#1e1e1e"/>
  <rect x="884.3" y="202.9" width="9.5" height="10.7" fill="#2aa8a8"/>
  <rect x="921.8" y="200.5" width="7.2" height="8.3" fill="#2aa8a8"/>
  <rect x="894.4" y="197.5" width="22.7" height="13.1" fill="#101828"/>
  <rect x="895.5" y="199" width="10" height="10" fill="#2e66c8"/>
  <rect x="906.5" y="199" width="9.5" height="10" fill="#2e66c8"/>
  <rect x="897.5" y="202" width="6" height="4" fill="#a8c8f0"/>
  <rect x="908.5" y="202" width="5.5" height="4" fill="#a8c8f0"/>
  <rect x="929" y="196" width="14.9" height="12.2" fill="#101828"/>
  <rect x="930" y="197.5" width="6.5" height="9" fill="#2e66c8"/>
  <rect x="937.5" y="197.5" width="5.5" height="9" fill="#2e66c8"/>
  <rect x="931" y="200" width="4.5" height="3.5" fill="#a8c8f0"/>
  <polygon points="927,207 939,206.5 938,226 929,226" fill="#1c1c1c"/>
  <polygon points="915,226 940,224 939,231 918,232" fill="#1c1c1c"/>
  <g stroke="#1c1c1c" stroke-width="1.8" fill="none" stroke-linecap="round">
    <path d="M929,231 L929,238 M916,244 L929,238 L941,243 M921,237 L937,237 M929,238 L931,245"/>
    <path d="M957,217 L956,226 L946,230 M956,226 L956,231 M946,233 L956,231 L966,233 M956,231 L960,235"/>
  </g>
  <polygon points="957,198.5 966,199 965.5,219 956,219" fill="#1c1c1c"/>
  <circle cx="961.5" cy="199" r="3" fill="#1c1c1c"/>
  <polygon points="947,219 966,218 965,224 949,225" fill="#1c1c1c"/>
  <!-- racks -->
  <polygon points="1034.9,196.6 1064.6,194.9 1064.6,235.6 1034.9,232.5" fill="#161616"/>
  <polygon points="1064.6,194.9 1084.7,200.1 1084.7,229.0 1064.6,235.6" fill="#0e0e0e"/>
  <line x1="1036.4" y1="199.3" x2="1063.6" y2="198.0" stroke="#6a6a6a" stroke-width="0.9"/>
  <line x1="1036.4" y1="203.8" x2="1063.6" y2="203.0" stroke="#6a6a6a" stroke-width="0.9"/>
  <line x1="1036.4" y1="208.3" x2="1063.6" y2="208.1" stroke="#6a6a6a" stroke-width="0.9"/>
  <line x1="1036.4" y1="212.8" x2="1063.6" y2="213.2" stroke="#6a6a6a" stroke-width="0.9"/>
  <line x1="1036.4" y1="217.2" x2="1063.6" y2="218.3" stroke="#6a6a6a" stroke-width="0.9"/>
  <line x1="1036.4" y1="221.7" x2="1063.6" y2="223.4" stroke="#6a6a6a" stroke-width="0.9"/>
  <line x1="1036.4" y1="226.2" x2="1063.6" y2="228.5" stroke="#6a6a6a" stroke-width="0.9"/>
  <line x1="1036.4" y1="230.7" x2="1063.6" y2="233.6" stroke="#6a6a6a" stroke-width="0.9"/>
  <line x1="1049.8" y1="196.8" x2="1049.8" y2="233.1" stroke="#3a3a3a" stroke-width="0.8"/>
  <line x1="1071.2" y1="197.6" x2="1071.2" y2="232.4" stroke="#262626" stroke-width="0.8"/>
  <line x1="1077.9" y1="199.3" x2="1077.9" y2="230.2" stroke="#262626" stroke-width="0.8"/>
  <rect x="1079.7" y="221.0" width="2.5" height="2.5" fill="#9a9a9a"/>
  <polygon points="1113.5,198.4 1143.3,196.6 1143.3,237.7 1113.5,236.0" fill="#161616"/>
  <polygon points="1143.3,196.6 1163.4,201.9 1163.4,231.6 1143.3,237.7" fill="#0e0e0e"/>
  <line x1="1115.0" y1="201.2" x2="1142.3" y2="199.7" stroke="#6a6a6a" stroke-width="0.9"/>
  <line x1="1115.0" y1="205.9" x2="1142.3" y2="204.8" stroke="#6a6a6a" stroke-width="0.9"/>
  <line x1="1115.0" y1="210.6" x2="1142.3" y2="210.0" stroke="#6a6a6a" stroke-width="0.9"/>
  <line x1="1115.0" y1="215.3" x2="1142.3" y2="215.1" stroke="#6a6a6a" stroke-width="0.9"/>
  <line x1="1115.0" y1="220.0" x2="1142.3" y2="220.2" stroke="#6a6a6a" stroke-width="0.9"/>
  <line x1="1115.0" y1="224.7" x2="1142.3" y2="225.4" stroke="#6a6a6a" stroke-width="0.9"/>
  <line x1="1115.0" y1="229.4" x2="1142.3" y2="230.5" stroke="#6a6a6a" stroke-width="0.9"/>
  <line x1="1115.0" y1="234.1" x2="1142.3" y2="235.6" stroke="#6a6a6a" stroke-width="0.9"/>
  <line x1="1128.4" y1="198.5" x2="1128.4" y2="235.8" stroke="#3a3a3a" stroke-width="0.8"/>
  <line x1="1149.9" y1="199.3" x2="1149.9" y2="234.7" stroke="#262626" stroke-width="0.8"/>
  <line x1="1156.6" y1="201.1" x2="1156.6" y2="232.7" stroke="#262626" stroke-width="0.8"/>
  <rect x="1158.4" y="223.6" width="2.5" height="2.5" fill="#9a9a9a"/>
  <!-- flat switch -->
  <polygon points="776.4,273.3 787.4,264.1 828.5,264.1 816.6,273.3" fill="#4ab4e4"/>
  <rect x="776.4" y="273.3" width="40.2" height="12.7" fill="#2a9ad4"/>
  <polygon points="816.6,273.3 828.5,264.1 828.5,275 816.6,286" fill="#1878ac"/>
  <g stroke="#fff" stroke-width="1.4" fill="none">
    <path d="M792,266.5 L804,266.5 M799,265 L804,266.5 L799,268"/>
    <path d="M820,271 L808,271 M813,269.5 L808,271 L813,272.5"/>
    <path d="M812,266.5 L822,266.5"/>
    <path d="M786,271 L798,271"/>
    <path d="M792,276 L796.5,283 L801,276" stroke-width="2"/>
  </g>

</svg>

<div class="t" style="left:294px;top:13px;font-size:28px;letter-spacing:0.8px;font-weight:bold;color:#000;-webkit-text-stroke:0.5px #000">生产集控平台</div>
<div class="t" style="left:780px;top:13px;font-size:28px;letter-spacing:0.5px;font-weight:bold;color:#000;-webkit-text-stroke:0.5px #000">综合集控信息一体化平台</div>

<div class="y" style="left:96px;top:61px;width:81px;height:38px">混煤配煤</div>
<div class="y" style="left:188px;top:61px;width:81px;height:38px">落煤防堵</div>
<div class="y" style="left:285px;top:61px;width:81px;height:38px">降尘喷雾</div>
<div class="y" style="left:382px;top:61px;width:80px;height:38px">通风机集控</div>
<div class="y" style="left:478px;top:61px;width:81px;height:38px">龙门吊集控</div>
<div class="y dots" style="left:574px;top:61px;width:51px;height:38px">......</div>
<div class="y" style="left:95px;top:112px;width:543px;height:38px;font-weight:bold;font-size:16px;letter-spacing:0.68px;padding-top:2px;box-sizing:border-box">Intewell+MaVIEW+KySCADA</div>

<div class="t" style="left:335px;top:186px;font-size:19px;font-weight:bold;color:#00b050;line-height:22.6px">NEWPRE<br>3101双机<br>热备</div>


<div class="y" style="left:697.4px;top:142.3px;width:70px;height:29.7px;font-size:16.5px">仓储管理</div>
<div class="y" style="left:772px;top:141.4px;width:68.3px;height:32.5px;font-size:16.5px">交易平台</div>
<div class="y" style="left:844px;top:142.9px;width:68.2px;height:32px;font-size:16.5px">大屏展示</div>
<div class="y" style="left:918.8px;top:143.2px;width:65.8px;height:32.1px;font-size:16.5px">车辆管理</div>
<div class="y" style="left:994.6px;top:142.8px;width:66px;height:34.7px;font-size:16.5px;text-align:center;line-height:19px;padding-top:3px;box-sizing:border-box">移动端系<br>统</div>
<div class="y" style="left:1071.2px;top:145px;width:83.4px;height:33.1px;font-size:16.5px">AI智能分析</div>

<div class="t lbl" style="left:274.5px;top:379.5px;font-size:18.5px;letter-spacing:-0.2px;font-weight:bold;color:#234b7e">工业万兆环网（生产网）</div>
<div class="t lbl" style="left:825.7px;top:382px;font-size:18.5px;font-weight:bold;color:#234b7e">视频监控网、4G/5G网络、无线局域网</div>
<div class="t sl" style="left:537px;top:330px">工业万兆<br><span style="padding-left:5.5px">交换机</span></div>
<div class="t sl" style="left:742.5px;top:345px">工业万兆<br><span style="padding-left:5.5px">交换机</span></div>
<div class="t sl" style="left:423.5px;top:410.5px">工业万兆<br><span style="padding-left:5.5px">交换机</span></div>
<div class="t sl" style="left:990.5px;top:412.5px">工业万兆<br><span style="padding-left:5.5px">交换机</span></div>
<div class="t" style="left:682.7px;top:305px;font-size:18px;color:#6a8fc6">5G基站控制器</div>

<div class="t" style="left:17.4px;top:482px;font-size:23px;color:#1a1a1a;letter-spacing:2px">生产集控设备</div>
<div class="t" style="left:1152px;top:484px;font-size:23px;color:#1a1a1a;letter-spacing:2px">弱电系统</div>

<div class="y yb" style="left:26.7px;top:526.3px;width:95.3px;height:29.5px">皮带运输机</div>
<div class="y yb" style="left:143.8px;top:526.4px;width:102.2px;height:29.8px">给煤机</div>
<div class="y yb" style="left:269.5px;top:527.5px;width:121.4px;height:30.4px">通风机</div>
<div class="y yb" style="left:406.6px;top:527.8px;width:94.9px;height:29.5px">空压机</div>
<div class="y yb" style="left:514.5px;top:526.6px;width:95.8px;height:30.7px">龙门吊</div>
<div class="y yb" style="left:26.0px;top:565.2px;width:96.5px;height:30.8px">牵引绞车</div>
<div class="y yb" style="left:143.2px;top:567.3px;width:103.9px;height:29.4px">汽车衡</div>
<div class="y yb" style="left:268.8px;top:565.1px;width:122.1px;height:29.4px">电子皮带秤</div>
<div class="y yb" style="left:406.6px;top:564.2px;width:94.9px;height:30.1px">电力系统</div>
<div class="y yb dots2" style="left:514.5px;top:566.5px;width:93.7px;height:30.7px">......</div>

<div class="y yb" style="left:886.4px;top:528.7px;width:133.8px;height:32px">广播系统</div>
<div class="y yb" style="left:1033px;top:528.3px;width:135px;height:33px">公网对讲</div>
<div class="y yb" style="left:886.4px;top:570.2px;width:134.6px;height:32px">监控枪机球机</div>
<div class="y yb dots2" style="left:1033.7px;top:572px;width:134.5px;height:31.3px">......</div>

<div class="t" style="left:680.5px;top:589px;font-size:17px;letter-spacing:0.8px;color:#6a8fc6">4、5G网络终端</div>
</body></html>
